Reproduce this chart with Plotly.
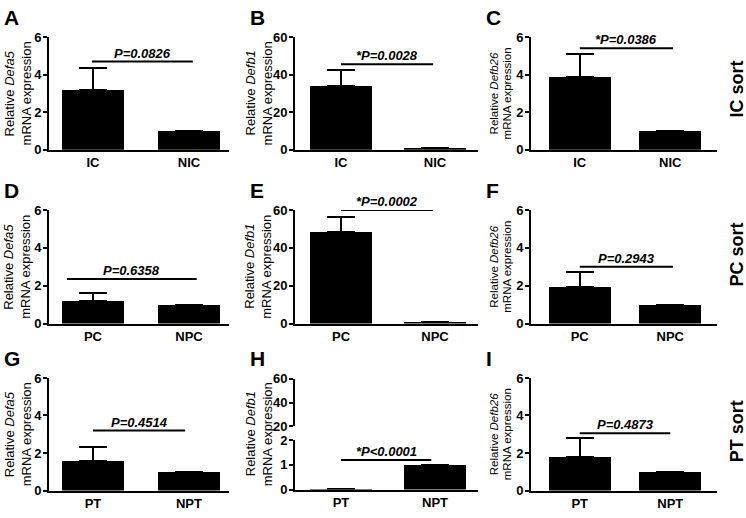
import plotly.graph_objects as go

# ---------------- data ----------------
groups = [["IC", "NIC"], ["IC", "NIC"], ["IC", "NIC"],
          ["PC", "NPC"], ["PC", "NPC"], ["PC", "NPC"],
          ["PT", "NPT"], ["PT", "NPT"], ["PT", "NPT"]]
means = [[3.2, 1.0], [34.0, 1.0], [3.88, 1.0],
         [1.2, 1.0], [48.5, 1.0], [1.92, 1.0],
         [1.6, 1.0], [0.01, 1.0], [1.78, 1.0]]
sems = [[1.15, 0], [8.3, 0], [1.2, 0],
        [0.43, 0], [8.0, 0], [0.82, 0],
        [0.73, 0], [0, 0], [1.02, 0]]
pvals = ["P=0.0826", "*P=0.0028", "*P=0.0386",
         "P=0.6358", "*P=0.0002", "P=0.2943",
         "P=0.4514", "*P<0.0001", "P=0.4873"]
pline_y = [4.7, 45.5, 5.4, 2.35, 60, 3.0, 3.2, 1.2, 3.05]
genes = ["Defa5", "Defb1", "Defb26"] * 3
panel_letters = list("ABCDEFGHI")
sort_labels = ["IC sort", "PC sort", "PT sort"]
ymax = [6, 60, 6, 6, 60, 6, 6, 2, 6]
yticks = [[0, 2, 4, 6], [0, 20, 40, 60], [0, 2, 4, 6],
          [0, 2, 4, 6], [0, 20, 40, 60], [0, 2, 4, 6],
          [0, 2, 4, 6], [0, 1, 2], [0, 2, 4, 6]]
h_upper_range = [20, 60]
h_upper_ticks = [20, 40, 60]

# ---------------- layout geometry ----------------
W, H = 746, 518
col_px = [(49, 229), (295, 478), (531, 717)]
row_px = [(31, 147), (209, 326), (382, 498)]
h_lower_px = (446, 497)
h_upper_px = (383, 432)
col_xrange = [[-0.458, 1.417], [-0.489, 1.457], [-0.538, 1.516]]
col_barw = [0.646, 0.66, 0.68]
# horizontal extent of the significance line, per panel (category units)
pline_x = [(-0.01, 1.04), (0, 0.98), (0, 1.03),
           (-0.27, 1.08), (0, 0.98), (0, 1.03),
           (0, 0.96), (0, 0.96), (0, 1.0)]
title_off = [(40, 23), (45, 28), (37, 24)]
title_size = [13, 13, 11.5]
sort_y = [85, 255, 437]

FONT = "Arial, Liberation Sans, sans-serif"


def xd(a, b):
    return [a / W, b / W]


def yd(top, bottom):
    return [1 - bottom / H, 1 - top / H]


def yaxis_style(dom, rng, anchor, tickvals):
    return dict(
        domain=dom, range=rng, anchor=anchor,
        showline=True, linecolor="black", linewidth=2, ticks="outside",
        ticklen=4, tickwidth=2, tickcolor="black", tickvals=tickvals,
        ticklabelstandoff=-1,
        showgrid=False, zeroline=False,
        tickfont=dict(family=FONT, size=13, color="black", weight="bold"),
        fixedrange=True,
    )


fig = go.Figure()
annotations = []

for i in range(9):
    r, c = divmod(i, 3)
    n = i + 1
    xa = "x" if n == 1 else f"x{n}"
    ya = "y" if n == 1 else f"y{n}"
    err = [e if e > 0 else None for e in sems[i]]
    fig.add_trace(go.Bar(
        x=[0, 1], y=means[i], width=col_barw[c],
        marker=dict(color="black", line=dict(width=0)),
        error_y=dict(type="data", symmetric=False, array=err,
                     arrayminus=[0, 0], color="black", thickness=2, width=14,
                     visible=True),
        xaxis=xa, yaxis=ya, showlegend=False, cliponaxis=False,
    ))
    lx0, lx1 = pline_x[i]
    fig.add_trace(go.Scatter(
        x=[lx0, lx1], y=[pline_y[i], pline_y[i]], mode="lines",
        line=dict(color="black", width=2), xaxis=xa, yaxis=ya,
        showlegend=False, cliponaxis=False, hoverinfo="skip",
    ))
    annotations.append(dict(
        x=(lx0 + lx1) / 2, y=pline_y[i], xref=xa, yref=ya,
        text=f"<b><i>{pvals[i]}</i></b>",
        showarrow=False, yanchor="bottom", yshift=-1,
        font=dict(family=FONT, size=13, color="black"),
    ))

    x0, x1 = col_px[c]
    ydom = yd(*h_lower_px) if i == 7 else yd(*row_px[r])
    fig.layout[f"xaxis{'' if n == 1 else n}"] = dict(
        domain=xd(x0, x1), range=col_xrange[c], anchor=ya,
        showline=True, linecolor="black", linewidth=2, ticks="",
        tickvals=[0, 1], ticktext=groups[i], showgrid=False, zeroline=False,
        tickfont=dict(family=FONT, size=13, color="black", weight="bold"),
        fixedrange=True,
    )
    fig.layout[f"yaxis{'' if n == 1 else n}"] = yaxis_style(
        ydom, [0, ymax[i]], xa, yticks[i])

    # y-axis titles, one annotation per line
    row_mid = 1 - ((row_px[r][0] + row_px[r][1]) / 2) / H
    for txt, off in zip([f"Relative <i>{genes[i]}</i>", "mRNA expression"], title_off[c]):
        annotations.append(dict(
            x=(x0 - off) / W, y=row_mid,
            xref="paper", yref="paper", textangle=-90, text=txt,
            showarrow=False, font=dict(family=FONT, size=title_size[c], color="black"),
            xanchor="center", yanchor="middle",
        ))
    # panel letters
    annotations.append(dict(
        x=(x0 - 47) / W, y=1 - (row_px[r][0] - 20) / H, xref="paper", yref="paper",
        text=f"<b>{panel_letters[i]}</b>", showarrow=False,
        font=dict(family=FONT, size=21, color="black"),
        xanchor="left", yanchor="middle",
    ))

# upper segment of broken axis in panel H
fig.add_trace(go.Scatter(x=[0], y=[30], mode="markers", marker=dict(opacity=0),
                         xaxis="x8", yaxis="y10", showlegend=False, hoverinfo="skip"))
fig.layout["yaxis10"] = yaxis_style(yd(*h_upper_px), h_upper_range, "x8", h_upper_ticks)

# row sort labels
for r in range(3):
    annotations.append(dict(
        x=737 / W, y=1 - sort_y[r] / H, xref="paper", yref="paper",
        text=f"<b>{sort_labels[r]}</b>", textangle=-90, showarrow=False,
        font=dict(family=FONT, size=18, color="black"),
        xanchor="center", yanchor="middle",
    ))

fig.update_layout(
    width=W, height=H, margin=dict(l=0, r=0, t=0, b=0),
    paper_bgcolor="white", plot_bgcolor="white",
    annotations=annotations, bargap=0,
)

fig.write_html("out.html", config={"displayModeBar": False},
               post_script="document.body.style.margin='0px';")
